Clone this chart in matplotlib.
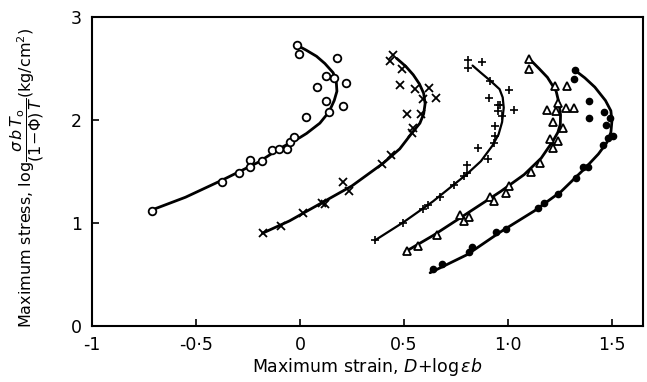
import numpy as np
import matplotlib.pyplot as plt

# measured points for each test series (strain, stress)
circ_x = [-0.713, -0.375, -0.292, -0.24, -0.24, -0.18, -0.136, -0.10, -0.061, -0.047, -0.03,
          0.029, 0.141, 0.208, 0.125, 0.083, 0.221, 0.163, 0.125, 0.176, -0.005, -0.016]
circ_y = [1.12, 1.40, 1.485, 1.61, 1.54, 1.60, 1.71, 1.715, 1.72, 1.79, 1.84,
          2.03, 2.08, 2.136, 2.19, 2.32, 2.36, 2.41, 2.43, 2.60, 2.64, 2.73]

cross_x = [-0.176, -0.093, 0.016, 0.104, 0.12, 0.205, 0.237, 0.393, 0.436, 0.537, 0.542,
           0.516, 0.58, 0.59, 0.553, 0.62, 0.652, 0.48, 0.489, 0.433, 0.449]
cross_y = [0.90, 0.974, 1.094, 1.197, 1.18, 1.40, 1.31, 1.57, 1.66, 1.877, 1.92,
           2.055, 2.06, 2.20, 2.30, 2.31, 2.21, 2.34, 2.50, 2.57, 2.63]

plus_x = [0.36, 0.494, 0.59, 0.618, 0.675, 0.74, 0.788, 0.804, 0.804, 0.904, 0.857, 0.933,
          0.94, 0.94, 0.97, 0.95, 1.027, 0.95, 0.96, 0.91, 1.005, 0.913, 0.877, 0.81, 0.81]
plus_y = [0.83, 1.003, 1.136, 1.17, 1.25, 1.37, 1.46, 1.486, 1.567, 1.62, 1.73, 1.78,
          1.845, 1.94, 2.04, 2.09, 2.095, 2.15, 2.15, 2.21, 2.29, 2.38, 2.56, 2.58, 2.51]

tri_x = [0.513, 0.57, 0.659, 0.768, 0.788, 0.812, 0.913, 0.933, 0.99, 1.006, 1.11, 1.156,
         1.216, 1.204, 1.24, 1.216, 1.267, 1.187, 1.232, 1.24, 1.28, 1.317, 1.284, 1.224,
         1.103, 1.103]
tri_y = [0.725, 0.78, 0.88, 1.078, 1.018, 1.06, 1.256, 1.21, 1.29, 1.364, 1.50, 1.58,
         1.73, 1.82, 1.795, 1.98, 1.92, 2.10, 2.09, 2.17, 2.115, 2.115, 2.33, 2.33,
         2.50, 2.59]

dot_x = [0.639, 0.683, 0.812, 0.828, 0.941, 0.99, 1.143, 1.175, 1.24, 1.329, 1.361, 1.386,
         1.458, 1.482, 1.507, 1.47, 1.49, 1.463, 1.39, 1.388, 1.32, 1.324]
dot_y = [0.555, 0.60, 0.718, 0.767, 0.913, 0.946, 1.142, 1.19, 1.28, 1.436, 1.54, 1.545,
         1.76, 1.83, 1.85, 1.95, 2.02, 2.08, 2.02, 2.19, 2.40, 2.49]

# fitted curves drawn through the data
circ_cx = [-0.72, -0.55, -0.37, -0.2, -0.1, 0.0, 0.032, 0.096, 0.14, 0.165, 0.178, 0.175, 0.16, 0.12, 0.08, 0.03, -0.016]
circ_cy = [1.12, 1.25, 1.42, 1.59, 1.72, 1.83, 1.87, 1.97, 2.08, 2.19, 2.28, 2.37, 2.46, 2.55, 2.62, 2.68, 2.73]

cross_cx = [-0.18, -0.05, 0.1, 0.25, 0.4, 0.48, 0.537, 0.577, 0.595, 0.602, 0.595, 0.575, 0.545, 0.51, 0.465]
cross_cy = [0.90, 1.02, 1.19, 1.36, 1.58, 1.72, 1.87, 1.97, 2.06, 2.16, 2.26, 2.35, 2.44, 2.52, 2.60]

plus_cx = [0.36, 0.5, 0.64, 0.72, 0.80, 0.87, 0.925, 0.955, 0.972, 0.98, 0.975, 0.96, 0.917, 0.87, 0.83]
plus_cy = [0.83, 1.01, 1.21, 1.34, 1.47, 1.60, 1.75, 1.86, 1.98, 2.12, 2.22, 2.30, 2.38, 2.46, 2.53]

tri_cx = [0.505, 0.642, 0.804, 0.965, 1.078, 1.16, 1.216, 1.24, 1.252, 1.253, 1.245, 1.232, 1.19, 1.15, 1.108]
tri_cy = [0.718, 0.88, 1.093, 1.306, 1.47, 1.63, 1.795, 1.88, 1.96, 2.05, 2.17, 2.28, 2.415, 2.50, 2.585]

dot_cx = [0.626, 0.804, 0.965, 1.127, 1.256, 1.37, 1.435, 1.475, 1.495, 1.5, 1.495, 1.469, 1.418, 1.37, 1.325]
dot_cy = [0.516, 0.692, 0.914, 1.117, 1.306, 1.53, 1.67, 1.78, 1.88, 1.99, 2.09, 2.19, 2.32, 2.41, 2.48]

plt.rcParams['font.family'] = ['DejaVu Sans']
plt.rcParams['mathtext.fontset'] = 'dejavusans'

fig = plt.figure(figsize=(6.47, 3.82), dpi=100)
ax = fig.add_axes([0.142, 0.147, 0.852, 0.808])

lw = 2.0
ax.plot(circ_cx, circ_cy, 'k-', lw=lw, solid_capstyle='round', solid_joinstyle='round')
ax.plot(cross_cx, cross_cy, 'k-', lw=lw, solid_capstyle='round', solid_joinstyle='round')
ax.plot(plus_cx, plus_cy, 'k-', lw=1.6, solid_capstyle='round', solid_joinstyle='round')
ax.plot(tri_cx, tri_cy, 'k-', lw=lw, solid_capstyle='round', solid_joinstyle='round')
ax.plot(dot_cx, dot_cy, 'k-', lw=lw, solid_capstyle='round', solid_joinstyle='round')

ax.plot(circ_x, circ_y, 'o', ls='none', mfc='white', mec='k', ms=5.5, mew=1.3)
ax.plot(cross_x, cross_y, 'x', ls='none', color='k', ms=5.5, mew=1.3)
ax.plot(plus_x, plus_y, '+', ls='none', color='k', ms=6, mew=1.2)
ax.plot(tri_x, tri_y, '^', ls='none', mfc='white', mec='k', ms=5.5, mew=1.3)
ax.plot(dot_x, dot_y, 'o', ls='none', color='k', ms=4.5)

ax.set_xlim(-1, 1.65)
ax.set_ylim(0, 3)

ax.set_xticks([-1, -0.5, 0, 0.5, 1.0, 1.5])
ax.set_xticklabels(['-1', '-0\u00b75', '0', '0\u00b75', '1\u00b70', '1\u00b75'])
ax.set_yticks([0, 1, 2, 3])
ax.set_yticklabels(['0', '1', '2', '3'])
ax.tick_params(direction='in', length=5, width=1.2, labelsize=12.5)
ax.tick_params(axis='x', pad=7)
ax.tick_params(axis='y', pad=7)
for s in ax.spines.values():
    s.set_linewidth(1.5)

ax.set_xlabel('Maximum strain, $D$+log$\\,\\varepsilon b$', fontsize=12.5, labelpad=2)
ax.set_ylabel('Maximum stress, log$\\dfrac{\\sigma\\, b\\, T_{\\rm o}}{(1\\!-\\!\\Phi)\\,T}$(kg/cm$^2$)',
              fontsize=11.5)
ax.yaxis.set_label_coords(-0.083, 0.48)

fig.savefig('out.png', dpi=100)
